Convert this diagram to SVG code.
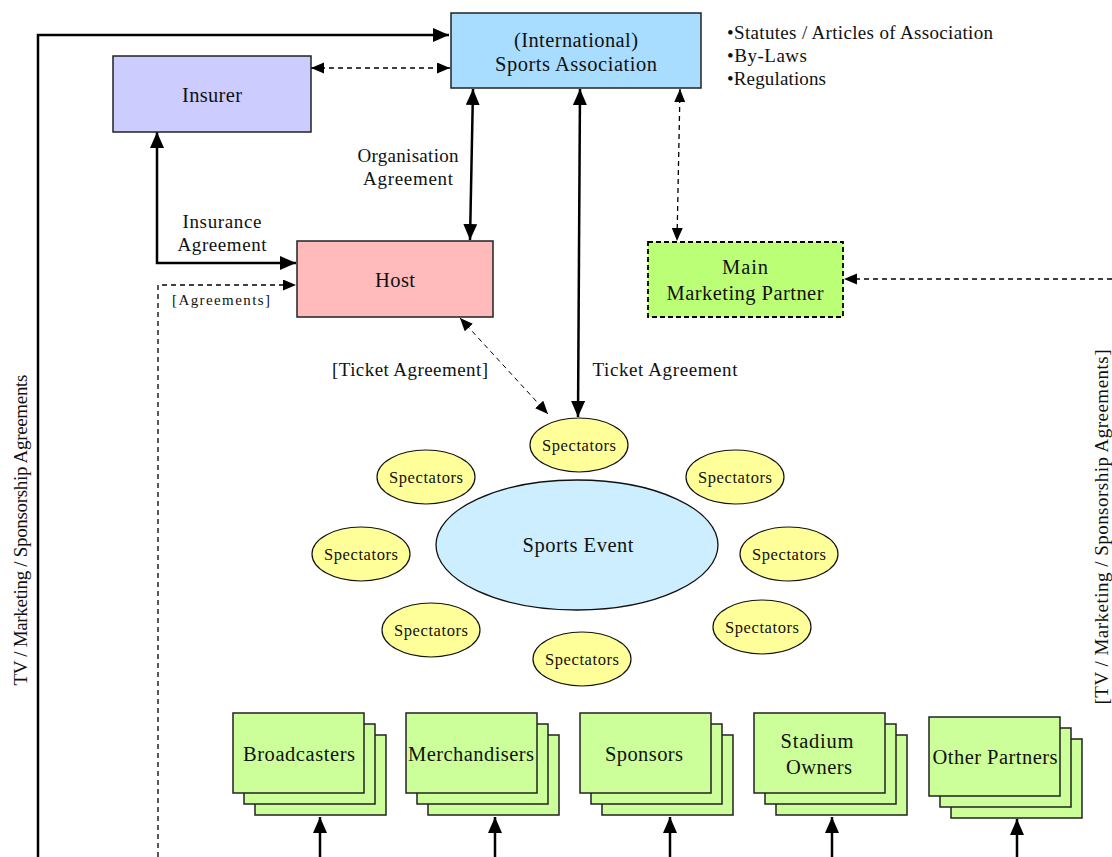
<svg xmlns="http://www.w3.org/2000/svg" width="1112" height="857" viewBox="0 0 1112 857">
<style>
text{font-family:"Liberation Serif","Times New Roman",serif;fill:#111;text-anchor:middle}
.box{stroke:#222;stroke-width:1.5}
.lbl{font-size:20.5px}
.el{font-size:19px}
.sp{font-size:16.5px}
.thick{fill:none;stroke:#000;stroke-width:2.5}
.dash{fill:none;stroke:#000;stroke-width:1.3;stroke-dasharray:5,4}
.spec{fill:#ffff99;stroke:#111;stroke-width:1.2}
.stk{fill:#ccff99;stroke:#222;stroke-width:1.5}
</style>
<defs>
<marker id="ah" markerUnits="userSpaceOnUse" markerWidth="17" markerHeight="15" refX="16" refY="7" orient="auto-start-reverse" viewBox="0 0 17 15"><path d="M0,0 L16,7 L0,14 z" fill="#000"/></marker>
<marker id="ahs" markerUnits="userSpaceOnUse" markerWidth="14" markerHeight="12" refX="13" refY="5.5" orient="auto-start-reverse" viewBox="0 0 14 12"><path d="M0,0 L13,5.5 L0,11 z" fill="#000"/></marker>
</defs>
<rect width="1112" height="857" fill="#fff"/>

<g id="connectors">
<path class="thick" d="M38,857 L38,35 L449,35" marker-end="url(#ah)"/>
<path class="dash" d="M311,68 L450,68" marker-start="url(#ahs)" marker-end="url(#ahs)"/>
<path class="thick" d="M473,89 L470,240" marker-start="url(#ah)" marker-end="url(#ah)"/>
<path class="thick" d="M580,89 L578,417" marker-start="url(#ah)" marker-end="url(#ah)"/>
<path class="dash" d="M680,89 L677,241" marker-start="url(#ahs)" marker-end="url(#ahs)"/>
<path class="dash" d="M1112,279 L844,279" marker-end="url(#ahs)"/>
<path class="thick" d="M157,132 L157,263 L296,263" marker-start="url(#ah)" marker-end="url(#ah)"/>
<path class="dash" d="M158,857 L158,285 L296,285" marker-end="url(#ahs)"/>
<path class="dash" style="stroke-width:1" d="M460,318 L548,414" marker-start="url(#ahs)" marker-end="url(#ahs)"/>
<path class="thick" d="M320,857 L320,817" marker-end="url(#ah)"/>
<path class="thick" d="M495,857 L495,817" marker-end="url(#ah)"/>
<path class="thick" d="M670,857 L670,817" marker-end="url(#ah)"/>
<path class="thick" d="M832,857 L832,817" marker-end="url(#ah)"/>
<path class="thick" d="M1017,857 L1017,819" marker-end="url(#ah)"/>
<text class="el" x="408" y="162" textLength="101" lengthAdjust="spacing">Organisation</text>
<text class="el" x="408" y="185" textLength="90" lengthAdjust="spacing">Agreement</text>
<text class="el" x="222" y="228" textLength="79" lengthAdjust="spacing">Insurance</text>
<text class="el" x="222" y="251" textLength="89" lengthAdjust="spacing">Agreement</text>
<text x="221" y="305" style="font-size:15px" textLength="98" lengthAdjust="spacing">[Agreements]</text>
<text class="el" x="410" y="376" textLength="156" lengthAdjust="spacing">[Ticket Agreement]</text>
<text class="el" x="665" y="376" textLength="145" lengthAdjust="spacing">Ticket Agreement</text>
<text class="el" transform="translate(27,530) rotate(-90)" textLength="311" lengthAdjust="spacing">TV / Marketing / Sponsorship Agreements</text>
<text class="el" transform="translate(1108,527) rotate(-90)" textLength="355" lengthAdjust="spacing">[TV / Marketing / Sponsorship Agreements]</text>
</g>

<g id="sports-association">
<rect class="box" x="451" y="13" width="250" height="75" fill="#a8ddff"/>
<text class="lbl" x="576" y="47" textLength="124" lengthAdjust="spacing">(International)</text>
<text class="lbl" x="576" y="71" textLength="162" lengthAdjust="spacing">Sports Association</text>
</g>
<g id="rules">
<text class="el" x="727" y="39" style="text-anchor:start" textLength="266" lengthAdjust="spacing">•Statutes / Articles of Association</text>
<text class="el" x="727" y="62" style="text-anchor:start" textLength="80" lengthAdjust="spacing">•By-Laws</text>
<text class="el" x="727" y="85" style="text-anchor:start" textLength="99" lengthAdjust="spacing">•Regulations</text>
</g>
<g id="insurer">
<rect class="box" x="113" y="56" width="198" height="76" fill="#ccccff"/>
<text class="lbl" x="212" y="102" textLength="60" lengthAdjust="spacing">Insurer</text>
</g>
<g id="host">
<rect class="box" x="297" y="241" width="196" height="76" fill="#ffbbbb"/>
<text class="lbl" x="395" y="287" textLength="40" lengthAdjust="spacing">Host</text>
</g>
<g id="main-marketing-partner">
<rect x="648" y="242" width="195" height="75" fill="#bbff77" stroke="#000" stroke-width="1.8" stroke-dasharray="5,3"/>
<text class="lbl" x="745" y="274" textLength="46" lengthAdjust="spacing">Main</text>
<text class="lbl" x="745" y="300" textLength="157" lengthAdjust="spacing">Marketing Partner</text>
</g>

<g id="sports-event">
<ellipse cx="577" cy="545" rx="141" ry="65" fill="#cceeff" stroke="#111" stroke-width="1.3"/>
<text class="lbl" x="578" y="552" textLength="111" lengthAdjust="spacing">Sports Event</text>
</g>
<g id="spectators-top"><ellipse class="spec" cx="579" cy="445" rx="49" ry="27"/><text class="sp" x="579" y="451" textLength="74" lengthAdjust="spacing">Spectators</text></g>
<g id="spectators-ul"><ellipse class="spec" cx="426" cy="477" rx="49" ry="27"/><text class="sp" x="426" y="483" textLength="74" lengthAdjust="spacing">Spectators</text></g>
<g id="spectators-ur"><ellipse class="spec" cx="735" cy="477" rx="49" ry="27"/><text class="sp" x="735" y="483" textLength="74" lengthAdjust="spacing">Spectators</text></g>
<g id="spectators-l"><ellipse class="spec" cx="361" cy="554" rx="49" ry="27"/><text class="sp" x="361" y="560" textLength="74" lengthAdjust="spacing">Spectators</text></g>
<g id="spectators-r"><ellipse class="spec" cx="789" cy="554" rx="49" ry="27"/><text class="sp" x="789" y="560" textLength="74" lengthAdjust="spacing">Spectators</text></g>
<g id="spectators-ll"><ellipse class="spec" cx="431" cy="630" rx="49" ry="27"/><text class="sp" x="431" y="636" textLength="74" lengthAdjust="spacing">Spectators</text></g>
<g id="spectators-lr"><ellipse class="spec" cx="762" cy="627" rx="49" ry="27"/><text class="sp" x="762" y="633" textLength="74" lengthAdjust="spacing">Spectators</text></g>
<g id="spectators-b"><ellipse class="spec" cx="582" cy="659" rx="49" ry="27"/><text class="sp" x="582" y="665" textLength="74" lengthAdjust="spacing">Spectators</text></g>

<g id="broadcasters">
<rect class="stk" x="255" y="735" width="131" height="80"/>
<rect class="stk" x="244" y="724" width="131" height="80"/>
<rect class="stk" x="233" y="713" width="131" height="80"/>
<text class="lbl" x="299" y="761" textLength="112" lengthAdjust="spacing">Broadcasters</text>
</g>
<g id="merchandisers">
<rect class="stk" x="428" y="735" width="131" height="80"/>
<rect class="stk" x="417" y="724" width="131" height="80"/>
<rect class="stk" x="406" y="713" width="131" height="80"/>
<text class="lbl" x="471" y="761" textLength="126" lengthAdjust="spacing">Merchandisers</text>
</g>
<g id="sponsors">
<rect class="stk" x="602" y="735" width="131" height="80"/>
<rect class="stk" x="591" y="724" width="131" height="80"/>
<rect class="stk" x="580" y="713" width="131" height="80"/>
<text class="lbl" x="644" y="761" textLength="78" lengthAdjust="spacing">Sponsors</text>
</g>
<g id="stadium-owners">
<rect class="stk" x="776" y="735" width="131" height="80"/>
<rect class="stk" x="765" y="724" width="131" height="80"/>
<rect class="stk" x="754" y="713" width="131" height="80"/>
<text class="lbl" x="817" y="748" textLength="73" lengthAdjust="spacing">Stadium</text>
<text class="lbl" x="819" y="774" textLength="66" lengthAdjust="spacing">Owners</text>
</g>
<g id="other-partners">
<rect class="stk" x="951" y="739" width="131" height="79"/>
<rect class="stk" x="940" y="728" width="131" height="79"/>
<rect class="stk" x="929" y="717" width="131" height="79"/>
<text class="lbl" x="995" y="764" textLength="125" lengthAdjust="spacing">Other Partners</text>
</g>
</svg>
